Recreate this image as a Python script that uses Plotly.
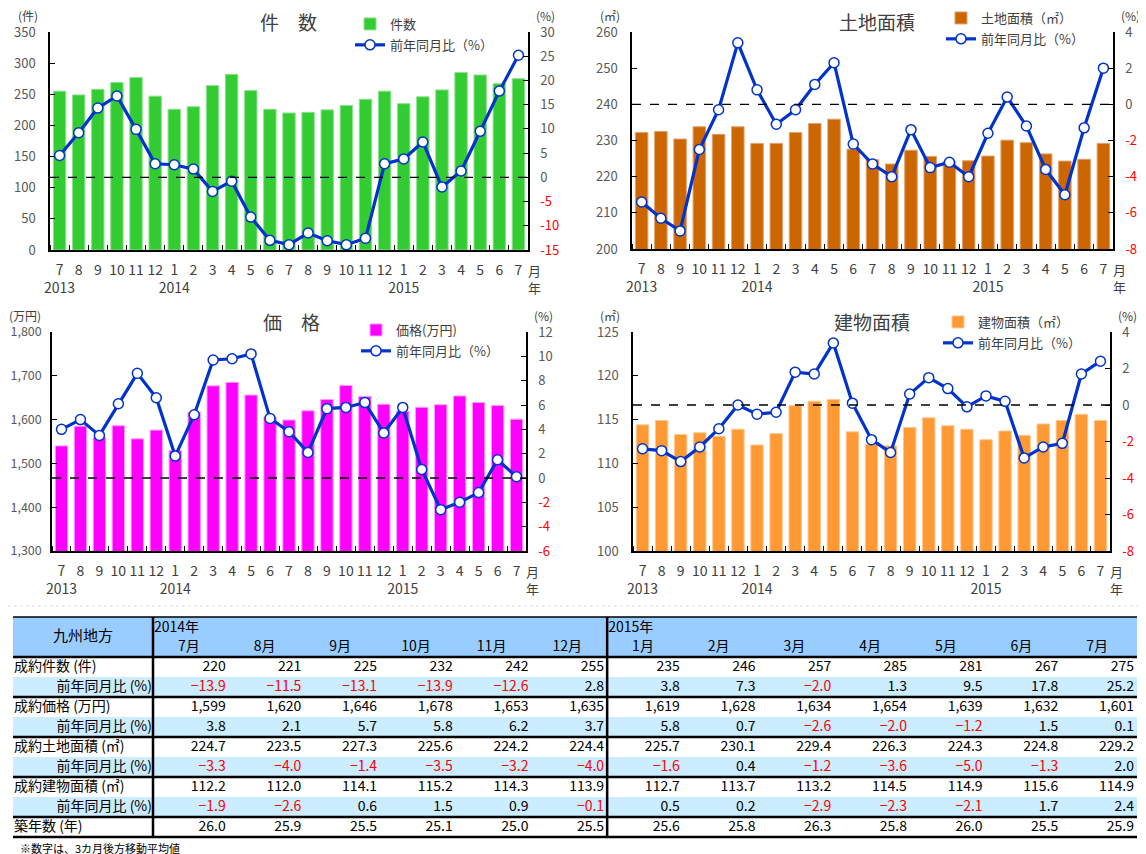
import plotly.graph_objects as go

W, H = 1146, 854
OFF = 8  # page body margin: shift so that reference pixels line up
FONT = "Noto Sans CJK JP, Noto Sans, sans-serif"

# ---------------- data ----------------
months = ["7", "8", "9", "10", "11", "12", "1", "2", "3", "4", "5", "6",
          "7", "8", "9", "10", "11", "12", "1", "2", "3", "4", "5", "6", "7"]
years = {0: "2013", 6: "2014", 18: "2015"}

count = [255, 249, 258, 269, 277, 247, 226, 230, 264, 282, 256, 226,
         220, 221, 225, 232, 242, 255, 235, 246, 257, 285, 281, 267, 275]
count_yoy = [4.5, 9.2, 14.3, 16.8, 9.9, 2.8, 2.6, 1.7, -2.9, -0.8, -8.2, -13.0,
             -13.9, -11.5, -13.1, -13.9, -12.6, 2.8, 3.8, 7.3, -2.0, 1.3, 9.5, 17.8, 25.2]

price = [1540, 1585, 1559, 1586, 1556, 1576, 1529, 1616, 1677, 1685, 1656, 1606,
         1599, 1620, 1646, 1678, 1653, 1635, 1619, 1628, 1634, 1654, 1639, 1632, 1601]
price_yoy = [4.0, 4.8, 3.5, 6.1, 8.6, 6.6, 1.8, 5.2, 9.7, 9.8, 10.2, 4.9,
             3.8, 2.1, 5.7, 5.8, 6.2, 3.7, 5.8, 0.7, -2.6, -2.0, -1.2, 1.5, 0.1]

land = [232.2, 232.5, 230.4, 233.8, 231.7, 233.8, 229.2, 229.2, 232.2, 234.7, 235.9, 227.6,
        224.7, 223.5, 227.3, 225.6, 224.2, 224.4, 225.7, 230.1, 229.4, 226.3, 224.3, 224.8, 229.2]
land_yoy = [-5.4, -6.3, -7.0, -2.5, -0.3, 3.4, 0.8, -1.1, -0.3, 1.1, 2.3, -2.2,
            -3.3, -4.0, -1.4, -3.5, -3.2, -4.0, -1.6, 0.4, -1.2, -3.6, -5.0, -1.3, 2.0]

building = [114.4, 114.9, 113.3, 113.5, 113.1, 113.9, 112.1, 113.4, 116.6, 117.1, 117.3, 113.6,
            112.2, 112.0, 114.1, 115.2, 114.3, 113.9, 112.7, 113.7, 113.2, 114.5, 114.9, 115.6, 114.9]
building_yoy = [-2.4, -2.5, -3.1, -2.3, -1.3, 0.0, -0.5, -0.4, 1.8, 1.7, 3.4, 0.1,
                -1.9, -2.6, 0.6, 1.5, 0.9, -0.1, 0.5, 0.2, -2.9, -2.3, -2.1, 1.7, 2.4]

age = [26.0, 25.9, 25.5, 25.1, 25.0, 25.5, 25.6, 25.8, 26.3, 25.8, 26.0, 25.5, 25.9]

table_months = ["7月", "8月", "9月", "10月", "11月", "12月",
                "1月", "2月", "3月", "4月", "5月", "6月", "7月"]
table_years = {0: "2014年", 6: "2015年"}
row_labels = ["成約件数 (件)", "前年同月比 (%)", "成約価格 (万円)", "前年同月比 (%)",
              "成約土地面積 (㎡)", "前年同月比 (%)", "成約建物面積 (㎡)", "前年同月比 (%)",
              "築年数 (年)"]

# ---------------- helpers ----------------
def px(x):
    return (x - OFF) / W

def py(y):
    return 1 - (y - OFF) / H

idx = list(range(len(months)))
ticktext = [m + ("<br>" + years[i] if i in years else "") for i, m in enumerate(months)]

panels = [
    dict(title="件　数", bars=count, yoy=count_yoy, color="#33CC33", edge="#8FE08F",
         name="件数", left=(0, 350, 50), right=(-15, 30, 5), fmt="",
         box=(50, 528, 32, 250), unit="(件)", unitx=28, title_x=288,
         leg=(350, 9), lfont=13, lstand=10),
    dict(title="土地面積", bars=land, yoy=land_yoy, color="#CC6600", edge="#E0A070",
         name="土地面積（㎡）", left=(200, 260, 10), right=(-8, 4, 2), fmt="",
         box=(632, 1113, 32, 249), unit="(㎡)", unitx=610, title_x=877,
         leg=(941, 3), lfont=13, lstand=10),
    dict(title="価　格", bars=price, yoy=price_yoy, color="#FF00FF", edge="#FF99FF",
         name="価格(万円)", left=(1300, 1800, 100), right=(-6, 12, 2), fmt=",",
         box=(52, 526, 332, 551), unit="(万円)", unitx=25, title_x=291,
         leg=(356, 315), lfont=12.5, lstand=6),
    dict(title="建物面積", bars=building, yoy=building_yoy, color="#FF9933", edge="#FFC890",
         name="建物面積（㎡）", left=(100, 125, 5), right=(-8, 4, 2), fmt="",
         box=(633, 1110, 332, 551), unit="(㎡)", unitx=610, title_x=872,
         leg=(938, 307), lfont=13, lstand=10),
]

fig = go.Figure()
layout = dict(width=W, height=H, margin=dict(l=0, r=0, t=0, b=0, autoexpand=False),
              paper_bgcolor="white", plot_bgcolor="rgba(0,0,0,0)",
              font=dict(family=FONT, color="#404040", size=13),
              barmode="group", bargap=0.35, showlegend=True)
annotations = []
shapes = []

for k, p in enumerate(panels):
    n = k + 1
    xa = "x" if n == 1 else f"x{n}"
    ya1 = f"y{2*n-1}" if n > 1 else "y"
    ya2 = f"y{2*n}"
    xkey = "xaxis" if n == 1 else f"xaxis{n}"
    ykey1 = "yaxis" if n == 1 else f"yaxis{2*n-1}"
    ykey2 = f"yaxis{2*n}"
    legkey = "legend" if n == 1 else f"legend{n}"
    x0, x1, y0, y1 = p["box"]

    fig.add_trace(go.Bar(x=idx, y=p["bars"], name=p["name"], xaxis=xa, yaxis=ya1,
                         marker=dict(color=p["color"], line=dict(color=p["edge"], width=1)),
                         legend=legkey, legendgroup=f"b{n}"))
    fig.add_trace(go.Scatter(x=idx, y=p["yoy"], name="前年同月比（%）", xaxis=xa, yaxis=ya2,
                             mode="lines+markers",
                             line=dict(color="#0033CC", width=3.2),
                             marker=dict(symbol="circle", size=10, color="white",
                                         line=dict(color="#0033CC", width=1.5)),
                             legend=legkey, legendgroup=f"l{n}"))

    layout[xkey] = dict(domain=[px(x0), px(x1)], anchor=ya1, range=[-0.5, len(idx) - 0.5],
                        tickmode="array", tickvals=idx, ticktext=ticktext, ticks="",
                        tickangle=0, automargin=False, ticklabelstandoff=6,
                        showline=True, linecolor="#000000", linewidth=1.5,
                        showgrid=False, zeroline=False,
                        tickfont=dict(size=14, color="#404040"),
                        minor=dict(tickmode="array",
                                   tickvals=[i - 0.5 for i in range(len(idx) + 1)],
                                   ticks="inside", ticklen=5, tickcolor="#000000"))
    lo, hi, st = p["left"]
    layout[ykey1] = dict(domain=[py(y1), py(y0)], anchor=xa, range=[lo, hi],
                         tickmode="linear", tick0=lo, dtick=st, tickformat=p["fmt"],
                         ticks="inside", ticklen=5, tickcolor="#000000", automargin=False,
                         ticklabelstandoff=p["lstand"],
                         showline=True, linecolor="#000000", linewidth=1.5,
                         showgrid=False, zeroline=False,
                         tickfont=dict(size=p["lfont"], color="#595959"))
    rlo, rhi, rst = p["right"]
    rvals = list(range(rlo, rhi + 1, rst))
    rtext = [f"<span style='color:#FF0000'>{v}</span>" if v < 0 else str(v) for v in rvals]
    layout[ykey2] = dict(overlaying=ya1, side="right", anchor=xa, range=[rlo, rhi],
                         tickmode="array", tickvals=rvals, ticktext=rtext, automargin=False,
                         ticks="inside", ticklen=5, tickcolor="#000000",
                         ticklabelstandoff=8,
                         showline=True, linecolor="#000000", linewidth=1.5,
                         showgrid=False, zeroline=False,
                         tickfont=dict(size=13, color="#595959"))
    layout[legkey] = dict(x=px(p["leg"][0]), y=py(p["leg"][1]), xanchor="left", yanchor="top",
                          bgcolor="rgba(0,0,0,0)", font=dict(size=13, color="#404040"),
                          tracegroupgap=1, itemwidth=30)

    shapes.append(dict(type="line", xref=f"{xa} domain", yref=ya2, x0=0, x1=1, y0=0, y1=0,
                       line=dict(color="#000000", width=1.3, dash="dash"), layer="above"))

    annotations.append(dict(text=p["title"], x=px(p["title_x"]), y=py(y0 - 11), xref="paper",
                            yref="paper", showarrow=False, xanchor="center", yanchor="middle",
                            font=dict(size=19, color="#404040")))
    annotations.append(dict(text=p["unit"], x=px(p["unitx"]), y=py(y0 - 17), xref="paper",
                            yref="paper", showarrow=False, xanchor="center", yanchor="middle",
                            font=dict(size=12, color="#404040")))
    annotations.append(dict(text="(%)", x=px(x1 + 17), y=py(y0 - 17), xref="paper",
                            yref="paper", showarrow=False, xanchor="center", yanchor="middle",
                            font=dict(size=12, color="#404040")))
    annotations.append(dict(text="月<br>年", x=px(x1 + 6), y=py(y1 + 29), xref="paper",
                            yref="paper", showarrow=False, xanchor="center", yanchor="middle",
                            font=dict(size=13, color="#404040")))

# ---------------- table ----------------
TX0, TX1, TY0 = 13, 1137, 617
HDR, ROW = 40, 20
first_w = 140
ncol = len(table_months)
col_w = (TX1 - TX0 - first_w) / ncol
nrow = len(row_labels)
TY1 = TY0 + HDR + nrow * ROW

def fmt_pct(v):
    s = f"{abs(v):.1f}"
    return ("−" + s) if v < 0 else s

tail = len(table_months)
raw_rows = [count[-tail:], count_yoy[-tail:], price[-tail:], price_yoy[-tail:],
            land[-tail:], land_yoy[-tail:], building[-tail:], building_yoy[-tail:], age]
fmts = [lambda v: f"{v:,}", fmt_pct, lambda v: f"{v:,}", fmt_pct,
        lambda v: f"{v:.1f}", fmt_pct, lambda v: f"{v:.1f}", fmt_pct, lambda v: f"{v:.1f}"]
is_sub = [r % 2 == 1 and r < 8 for r in range(nrow)]

# hidden axes mapping table pixels -> data units
layout["xaxis5"] = dict(domain=[px(TX0), px(TX1)], range=[TX0, TX1], visible=False,
                        anchor="y9", fixedrange=True)
layout["yaxis9"] = dict(domain=[py(TY1), py(TY0)], range=[TY1, TY0], visible=False,
                        anchor="x5", fixedrange=True)

def row_mid(r):
    return TY0 + HDR + ROW * r + ROW / 2

def col_right(c):
    return TX0 + first_w + (c + 1) * col_w

# row fills
shapes.append(dict(type="rect", xref="paper", yref="paper", x0=px(TX0), x1=px(TX1),
                   y0=py(TY0 + HDR), y1=py(TY0), fillcolor="#99CCFF", line=dict(width=0),
                   layer="below"))
for r in range(nrow):
    if is_sub[r]:
        shapes.append(dict(type="rect", xref="paper", yref="paper", x0=px(TX0), x1=px(TX1),
                           y0=py(TY0 + HDR + ROW * (r + 1)), y1=py(TY0 + HDR + ROW * r),
                           fillcolor="#CCECFF", line=dict(width=0), layer="below"))

# numeric cells
nx, ny, nt, nc = [], [], [], []
for r in range(nrow):
    for c in range(ncol):
        v = raw_rows[r][c]
        nx.append(col_right(c) - 3)
        ny.append(row_mid(r))
        nt.append(fmts[r](v))
        nc.append("#FF0000" if v < 0 else "#000000")
fig.add_trace(go.Scatter(x=nx, y=ny, text=nt, mode="text", textposition="middle left",
                         textfont=dict(family=FONT, size=14, color=nc),
                         xaxis="x5", yaxis="y9", showlegend=False, hoverinfo="skip"))
# row labels
main_r = [r for r in range(nrow) if not is_sub[r]]
sub_r = [r for r in range(nrow) if is_sub[r]]
fig.add_trace(go.Scatter(x=[TX0 + 1] * len(main_r), y=[row_mid(r) for r in main_r],
                         text=[row_labels[r] for r in main_r], mode="text",
                         textposition="middle right",
                         textfont=dict(family=FONT, size=14, color="#000000"),
                         xaxis="x5", yaxis="y9", showlegend=False, hoverinfo="skip"))
fig.add_trace(go.Scatter(x=[TX0 + first_w - 1] * len(sub_r), y=[row_mid(r) for r in sub_r],
                         text=[row_labels[r] for r in sub_r], mode="text",
                         textposition="middle left",
                         textfont=dict(family=FONT, size=14, color="#000000"),
                         xaxis="x5", yaxis="y9", showlegend=False, hoverinfo="skip"))
# header
fig.add_trace(go.Scatter(x=[TX0 + first_w + (c + 0.5) * col_w - 2 for c in range(ncol)],
                         y=[TY0 + 30] * ncol, text=table_months, mode="text",
                         textposition="middle center",
                         textfont=dict(family=FONT, size=14, color="#000000"),
                         xaxis="x5", yaxis="y9", showlegend=False, hoverinfo="skip"))
ycols = list(table_years.keys())
fig.add_trace(go.Scatter(x=[TX0 + first_w + c * col_w + 1 for c in ycols],
                         y=[TY0 + 11] * len(ycols), text=[table_years[c] for c in ycols],
                         mode="text", textposition="middle right",
                         textfont=dict(family=FONT, size=14, color="#000000"),
                         xaxis="x5", yaxis="y9", showlegend=False, hoverinfo="skip"))
fig.add_trace(go.Scatter(x=[TX0 + first_w / 2], y=[TY0 + HDR / 2], text=["九州地方"],
                         mode="text", textposition="middle center",
                         textfont=dict(family=FONT, size=15, color="#000000"),
                         xaxis="x5", yaxis="y9", showlegend=False, hoverinfo="skip"))

annotations.append(dict(text="※数字は、3カ月後方移動平均値", x=px(18), y=py(TY1 + 11), xref="paper",
                        yref="paper", showarrow=False, xanchor="left", yanchor="middle",
                        font=dict(size=11, color="#000000")))

# table rules
for r in (0, 2, 4, 6, 8, 9):
    yy = TY0 + HDR + ROW * r
    shapes.append(dict(type="line", xref="paper", yref="paper", x0=px(TX0), x1=px(TX1),
                       y0=py(yy), y1=py(yy), line=dict(color="#000000", width=2.5)))
shapes.append(dict(type="line", xref="paper", yref="paper", x0=px(TX0), x1=px(TX1),
                   y0=py(TY0), y1=py(TY0), line=dict(color="#000000", width=1.5)))
for xx in (TX0 + first_w, TX0 + first_w + 6 * col_w):
    shapes.append(dict(type="line", xref="paper", yref="paper", x0=px(xx), x1=px(xx),
                       y0=py(TY0), y1=py(TY1), line=dict(color="#000000", width=2.5)))
# faint separator
shapes.append(dict(type="line", xref="paper", yref="paper", x0=0, x1=1, y0=py(606), y1=py(606),
                   line=dict(color="#DDDDDD", width=1, dash="dot")))

layout["annotations"] = annotations
layout["shapes"] = shapes
fig.update_layout(**layout)
fig.write_html("out.html")
